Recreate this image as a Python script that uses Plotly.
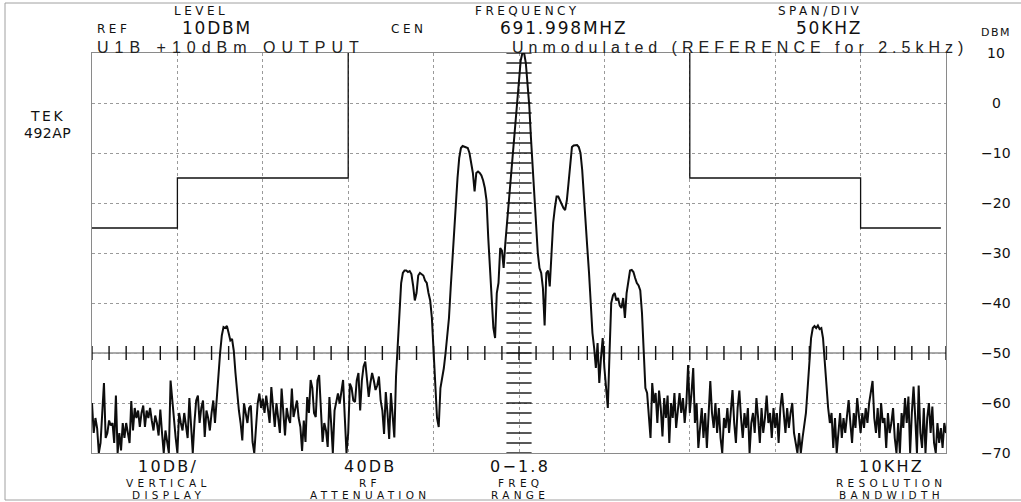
import plotly.graph_objects as go

# ---------------- data ----------------
SWEEP_START_KHZ = -250   # offset from 691.998 MHz
SWEEP_STEP_KHZ = 1

# trace values (dBm), one list per horizontal division (50 kHz each)
div1 = [-60, -66, -63, -65, -70, -68, -62, -56, -67, -66,
        -63.5, -64.5, -64, -68, -58.5, -70, -66, -69.5, -64, -67,
        -64, -66, -68, -59.6, -65.5, -61, -63, -61.5, -64.8, -62,
        -60.5, -64.8, -61.5, -63, -61, -63.5, -65.5, -62.5, -64, -66.5,
        -61.3, -66, -70, -65.5, -68, -70, -55.5, -60, -64, -67]
div2 = [-70, -62, -64, -65.5, -62, -65, -67, -59, -66, -70,
        -63.8, -59.5, -58.5, -64, -61, -59.5, -66.8, -61.5, -63, -65.5,
        -62, -59.5, -64, -59, -55, -50, -46.5, -44.8, -45, -44.6,
        -46, -47.5, -47.2, -49.5, -54, -58, -61.5, -64, -67.5, -60.1,
        -62, -64, -61, -60.5, -67.8, -70, -65, -60.1, -58.1, -61]
div3 = [-59.1, -62, -58.5, -61, -64, -56.8, -61, -64.8, -60, -63,
        -66, -57.1, -62, -66.5, -61, -63, -64, -57.1, -62.8, -61,
        -59.5, -63, -64.8, -69.6, -63.5, -67.8, -58.8, -62, -55.4, -57,
        -62, -62.8, -55.5, -54.4, -62, -67.8, -64, -65.5, -68.8, -58.8,
        -64, -70, -61.5, -60, -58.1, -60.1, -58, -55.4, -62.8, -70]
div4 = [-66, -56.1, -57, -59.5, -59.8, -55.5, -54, -61.5, -55.5, -52.7,
        -51.7, -56, -58.8, -56, -54, -55.5, -57.4, -56.5, -54.7, -59.5,
        -61.5, -66.2, -57.8, -62, -67.2, -58, -62, -66.9, -54.7, -48,
        -42, -36, -34, -33.5, -33.5, -33.8, -33.6, -34.2, -36.5, -39.5,
        -38, -34.5, -34, -34.2, -34.5, -35.5, -36, -38, -39.5, -43]
div5 = [-50, -55, -63, -64.8, -57, -55, -53, -50, -47, -43,
        -37, -31, -27, -21, -15, -11, -9, -8.6, -8.7, -8.8,
        -9, -10, -12, -14, -17.7, -14, -13.7, -14, -14.5, -15.5,
        -17, -19.5, -27, -33, -40, -45, -47, -38, -36, -29,
        -29.5, -33, -28, -24, -20, -16, -12, -8, -3, 1]
div6 = [5, 8.5, 10, 10, 8, 4.5, -0.5, -7, -13, -19,
        -25, -30, -33, -34, -37, -44.5, -34, -33.5, -36.7, -30,
        -24, -21, -18.7, -18.7, -19.5, -20, -21, -21.4, -19.5, -16,
        -12, -8.8, -8.5, -8.4, -8.4, -8.8, -10, -13.4, -18, -24,
        -29, -34, -40, -46, -49, -53, -48, -56, -51, -47]
div7 = [-53, -58, -61, -50, -40, -38.5, -38, -39.5, -39, -40.5,
        -41, -39, -43, -38, -35.5, -33.5, -33.4, -33.8, -35, -36,
        -36.5, -37.5, -42, -50, -57, -58, -62, -67, -56, -60,
        -58, -64, -57.5, -61, -66.7, -59, -63, -58.5, -68, -60,
        -63, -58, -65, -61, -58, -62, -59, -64, -60, -52.4]
div8 = [-62, -58, -53, -64, -60, -69, -64, -61, -67, -62,
        -69, -63, -55.6, -62, -65, -60, -66, -61, -67, -70,
        -63, -65, -61, -66, -62, -57.4, -64, -68, -61, -57.5,
        -63, -67, -62, -65, -61, -70, -64, -62, -66, -59,
        -63, -68, -61, -66, -63, -58.5, -64, -62, -67, -61]
div9 = [-65, -62, -68, -61, -58, -63, -66, -61, -65, -62,
        -60, -66, -68, -70, -66, -70, -67, -64, -62, -57,
        -51, -47, -45, -44.6, -45, -44.5, -45.2, -45, -47, -52,
        -57, -61, -64, -62, -69, -63, -70, -66, -62, -67,
        -63, -66, -62, -59.4, -64, -68, -62, -65, -59, -63]
div10 = [-66, -62, -65, -61, -64, -60, -58, -55.6, -63, -66,
         -61, -67, -60, -64, -63, -69, -62, -66, -64, -61,
         -67, -70, -64, -70, -62, -65, -59, -64, -58.7, -70,
         -62, -56.7, -63, -70, -56.5, -66, -69, -61, -70, -63,
         -60, -66, -60.7, -68, -70, -64, -68, -65, -69, -64, -66]

# front-panel indicator steps (kHz offset, dBm)
step_left_x = [-250, -200, -200, -100, -100]
step_left_y = [-25, -25, -15, -15, 10]
step_right_x = [100, 100, 200, 200, 247]
step_right_y = [10, -15, -15, -25, -25]

# graticule minor ticks
center_tick_levels = list(range(-70, 11, 2))
ref_line_ticks = list(range(-250, 251, 10))

y_labels = ["10", "0", "\u221210", "\u221220", "\u221230", "\u221240", "\u221250", "\u221260", "\u221270"]
y_label_vals = [10, 0, -10, -20, -30, -40, -50, -60, -70]

spectrum = div1 + div2 + div3 + div4 + div5 + div6 + div7 + div8 + div9 + div10
freq = [SWEEP_START_KHZ + i * SWEEP_STEP_KHZ for i in range(len(spectrum))]

# ---------------- figure ----------------
W, H = 1021, 502
L, R, T, B = 92, 75, 53, 49
PW, PH = W - L - R, H - T - B


def px(x):
    return (x - L) / PW


def py(y):
    return (H - B - y) / PH


fig = go.Figure()

fig.add_trace(go.Scatter(x=step_left_x, y=step_left_y, mode="lines",
                         line=dict(color="#111", width=1.3), hoverinfo="skip"))
fig.add_trace(go.Scatter(x=step_right_x, y=step_right_y, mode="lines",
                         line=dict(color="#111", width=1.3), hoverinfo="skip"))
fig.add_trace(go.Scatter(x=[0] * len(center_tick_levels), y=center_tick_levels, mode="markers",
                         marker=dict(symbol="line-ew", size=18, color="#111",
                                     line=dict(color="#111", width=1.4)),
                         hoverinfo="skip"))
fig.add_trace(go.Scatter(x=ref_line_ticks, y=[-50] * len(ref_line_ticks), mode="markers",
                         marker=dict(symbol="line-ns", size=10, color="#111",
                                     line=dict(color="#111", width=1.4)),
                         hoverinfo="skip"))
fig.add_trace(go.Scatter(x=freq, y=spectrum, mode="lines",
                         line=dict(color="#0d0d0d", width=2), hoverinfo="skip"))

fig.add_shape(type="line", xref="x", yref="y", x0=-250, x1=250, y0=-50, y1=-50,
              line=dict(color="#555", width=1), layer="below")

# outer scan frame
frame = dict(color="#a0a0a0", width=1)
fig.add_shape(type="line", xref="paper", yref="paper", x0=px(5), x1=px(1021), y0=py(3), y1=py(3), line=frame)
fig.add_shape(type="line", xref="paper", yref="paper", x0=px(5), x1=px(5), y0=py(3), y1=py(500), line=frame)
fig.add_shape(type="line", xref="paper", yref="paper", x0=px(5), x1=px(1021), y0=py(500), y1=py(500), line=frame)

FONT = "DejaVu Sans"


def label(text, x, y, size, spacing=0.0, color="#111", family=FONT, anchor="center"):
    if spacing:
        text = '<span style="letter-spacing:%.1fpx">%s</span>' % (spacing, text)
    fig.add_annotation(text=text, x=px(x), y=py(y), xref="paper", yref="paper",
                       showarrow=False, xanchor=anchor, yanchor="middle", borderpad=0,
                       font=dict(family=family, size=size, color=color))


SMALL, BIG = 12, 17
SSP, BSP = 3.5, 1.8

# header readouts
label("LEVEL", 201, 11, SMALL, SSP)
label("REF", 113, 29, SMALL, SSP)
label("10DBM", 217, 28, BIG, BSP)
label("CEN", 408, 29, SMALL, SSP)
label("FREQUENCY", 527, 11, SMALL, SSP)
label("691.998MHZ", 563, 28, BIG, BSP)
label("SPAN/DIV", 820, 11, SMALL, SSP)
label("50KHZ", 829, 28, BIG, BSP)
label("DBM", 996, 33, 11, 1.5)
label("TEK", 47, 116, 14, 2.5)
label("492AP", 47, 133, 14, 0.5)

# handwritten notes
label("U1B +10dBm OUTPUT", 96, 47, 16, 6.0, color="#222", family="Liberation Sans", anchor="left")
label("Unmodulated (REFERENCE for 2.5kHz)", 511, 47, 16, 5.0, color="#222", family="Liberation Sans", anchor="left")

# bottom readouts
for cx, big, s1, s2 in [(168, "10DB/", "VERTICAL", "DISPLAY"),
                        (370, "40DB", "RF", "ATTENUATION"),
                        (520, "0\u22121.8", "FREQ", "RANGE"),
                        (891, "10KHZ", "RESOLUTION", "BANDWIDTH")]:
    label(big, cx, 467, 16, 2.2)
    label(s1, cx, 482.5, 10.5, 4.3)
    label(s2, cx, 494.8, 10.5, 4.3)

# right dBm scale
for v, t in zip(y_label_vals, y_labels):
    fig.add_annotation(text=t, x=px(996), y=v, xref="paper", yref="y", showarrow=False,
                       xanchor="center", yanchor="middle", borderpad=0,
                       font=dict(family=FONT, size=14, color="#111"))

fig.update_layout(
    width=W, height=H, margin=dict(l=L, r=R, t=T, b=B),
    paper_bgcolor="white", plot_bgcolor="white", showlegend=False,
    xaxis=dict(range=[-250, 250], tick0=-250, dtick=50, showticklabels=False, ticks="",
               showgrid=True, gridcolor="#9a9a9a", griddash="dot", gridwidth=1,
               zeroline=False, showline=True, mirror=True, linecolor="#8a8a8a", linewidth=1,
               fixedrange=True),
    yaxis=dict(range=[-70, 10], tick0=-70, dtick=10, showticklabels=False, ticks="",
               showgrid=True, gridcolor="#9a9a9a", griddash="dot", gridwidth=1,
               zeroline=False, showline=True, mirror=True, linecolor="#8a8a8a", linewidth=1,
               fixedrange=True),
)

fig.write_html("out.html", config={"displayModeBar": False},
               post_script="document.body.style.margin='0';document.body.style.overflow='hidden';")
